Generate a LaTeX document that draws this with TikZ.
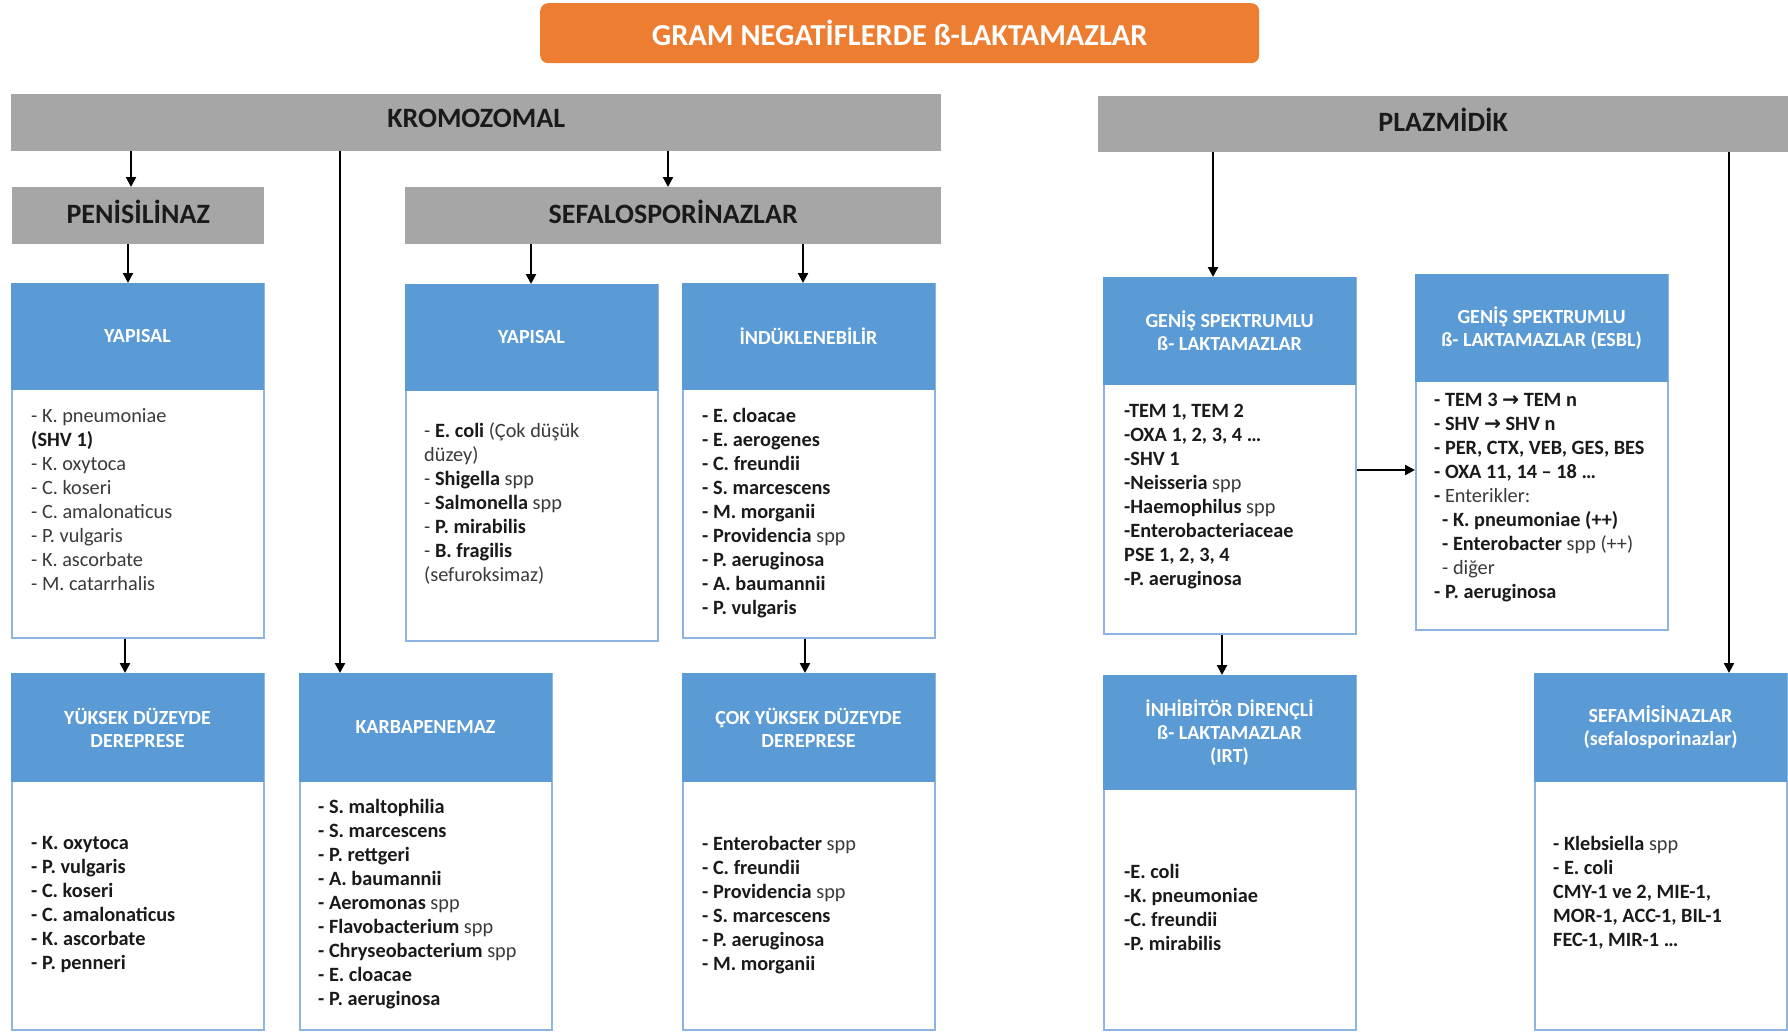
\documentclass[tikz,border=0pt]{standalone}
\usepackage{fontspec}
\setmainfont{Carlito}
\newfontfamily\symfont{DejaVu Sans}
\usetikzlibrary{arrows.meta}

\definecolor{hblue}{HTML}{5B9BD5}
\definecolor{edgeblue}{HTML}{8EB4E3}
\definecolor{bargray}{HTML}{A6A6A6}
\definecolor{titleorange}{HTML}{ED7D31}
\definecolor{darktext}{HTML}{1A1A1A}
\definecolor{softtext}{HTML}{3A3A3A}

% regular-weight pieces inside bold lists
\newcommand\rg[1]{{\mdseries\color{softtext}#1}}
\newcommand\bd[1]{{\bfseries\color{darktext}#1}}
\newcommand\toarrow{{\symfont\bfseries →}}

% one blue box: name, left x, top y, header height, total height, header text
\newcommand\lactbox[6]{%
  \node[bodybox, minimum height=#5] (#1) at (#2,#3) {};
  \node[hdrbox, minimum height=#4] (#1h) at (#2,#3) {#6};
}

\begin{document}
\begin{tikzpicture}[x=1pt, y=-1pt,
  bodybox/.style={anchor=north west, draw=edgeblue, line width=1.6pt, fill=white,
    minimum width=252pt, inner sep=0pt},
  hdrbox/.style={anchor=north west, draw=hblue, fill=hblue, line width=1pt,
    minimum width=252pt, inner sep=0pt, text=white, align=center,
    font=\fontsize{20}{23}\selectfont\bfseries},
  graybar/.style={anchor=north west, fill=bargray, inner sep=0pt, text depth=8pt,
    font=\fontsize{28}{30}\selectfont\bfseries, text=darktext},
  listtext/.style={anchor=north west, inner sep=0pt, align=left,
    font=\fontsize{20.3}{24}\selectfont, text=softtext},
  boldlist/.style={listtext, font=\fontsize{20.3}{24}\selectfont\bfseries, text=darktext},
  arr/.style={line width=2.3pt, -{Triangle[length=10pt, width=10pt]}},
]
\useasboundingbox (0,0) rectangle (1788,1031);
\fill[white] (0,0) rectangle (1788,1031);

% title
\node[anchor=north west, fill=titleorange, rounded corners=8pt,
  minimum width=719pt, minimum height=60pt, inner sep=0pt, text=white,
  font=\fontsize{30.5}{32}\selectfont\bfseries] (title) at (540,3)
  {GRAM NEGATİFLERDE ß-LAKTAMAZLAR};

% grey category bars
\node[graybar, minimum width=930pt, minimum height=57pt] (krom) at (11,94) {KROMOZOMAL};
\node[graybar, minimum width=690pt, minimum height=56pt] (plaz) at (1098,96) {PLAZMİDİK};
\node[graybar, minimum width=252pt, minimum height=57pt] (pen) at (12,187) {PENİSİLİNAZ};
\node[graybar, minimum width=536pt, minimum height=57pt] (sefalo) at (405,187) {SEFALOSPORİNAZLAR};

% blue boxes
\lactbox{yap1}{11}{283}{106pt}{354pt}{YAPISAL}
\lactbox{yap2}{405}{284}{106pt}{356pt}{YAPISAL}
\lactbox{induk}{682}{283}{106pt}{354pt}{İNDÜKLENEBİLİR}
\lactbox{yuksek}{11}{673}{108pt}{356pt}{YÜKSEK DÜZEYDE\\DEREPRESE}
\lactbox{karba}{299}{673}{108pt}{356pt}{KARBAPENEMAZ}
\lactbox{cok}{682}{673}{108pt}{356pt}{ÇOK YÜKSEK DÜZEYDE\\DEREPRESE}
\lactbox{genA}{1103}{277}{107pt}{356pt}{GENİŞ SPEKTRUMLU\\ß- LAKTAMAZLAR}
\lactbox{genB}{1415}{274}{107pt}{355pt}{GENİŞ SPEKTRUMLU\\ß- LAKTAMAZLAR (ESBL)}
\lactbox{inhib}{1103}{675}{114pt}{354pt}{İNHİBİTÖR DİRENÇLİ\\ß- LAKTAMAZLAR\\(IRT)}
\lactbox{sefam}{1534}{673}{108pt}{356pt}{SEFAMİSİNAZLAR\\(sefalosporinazlar)}

% lists
\node[listtext] (yap1t) at (31,408) {%
- K. pneumoniae\\
\bd{(SHV 1)}\\
- K. oxytoca\\
- C. koseri\\
- C. amalonaticus\\
- P. vulgaris\\
- K. ascorbate\\
- M. catarrhalis};

\node[listtext] (yap2t) at (424,422) {%
-\ \bd{E. coli} (Çok düşük\\
düzey)\\
-\ \bd{Shigella} spp\\
-\ \bd{Salmonella} spp\\
-\ \bd{P. mirabilis}\\
-\ \bd{B. fragilis}\\
(sefuroksimaz)};

\node[boldlist] (induktx) at (702,408) {%
- E. cloacae\\
- E. aerogenes\\
- C. freundii\\
- S. marcescens\\
- M. morganii\\
- Providencia \rg{spp}\\
- P. aeruginosa\\
- A. baumannii\\
- P. vulgaris};

\node[boldlist] (yuksekt) at (31,836) {%
- K. oxytoca\\
- P. vulgaris\\
- C. koseri\\
- C. amalonaticus\\
- K. ascorbate\\
- P. penneri};

\node[boldlist] (karbat) at (318,799) {%
- S. maltophilia\\
- S. marcescens\\
- P. rettgeri\\
- A. baumannii\\
- Aeromonas \rg{spp}\\
- Flavobacterium \rg{spp}\\
- Chryseobacterium \rg{spp}\\
- E. cloacae\\
- P. aeruginosa};

\node[boldlist] (cokt) at (702,836) {%
- Enterobacter \rg{spp}\\
- C. freundii\\
- Providencia \rg{spp}\\
- S. marcescens\\
- P. aeruginosa\\
- M. morganii};

\node[boldlist] (genAt) at (1124,404) {%
-TEM 1, TEM 2\\
-OXA 1, 2, 3, 4 …\\
-SHV 1\\
-Neisseria \rg{spp}\\
-Haemophilus \rg{spp}\\
-Enterobacteriaceae\\
PSE 1, 2, 3, 4\\
-P. aeruginosa};

\node[boldlist] (genBt) at (1434,393) {%
- TEM 3 \toarrow{} TEM n\\
- SHV \toarrow{} SHV n\\
- PER, CTX, VEB, GES, BES\\
- OXA 11, 14 – 18 …\\
- \rg{Enterikler:}\\
\hspace{8pt}- K. pneumoniae (++)\\
\hspace{8pt}- Enterobacter \rg{spp (++)}\\
\hspace{8pt}\rg{- diğer}\\
- P. aeruginosa};

\node[boldlist] (inhibt) at (1124,864) {%
-E. coli\\
-K. pneumoniae\\
-C. freundii\\
-P. mirabilis};

\node[boldlist] (sefamt) at (1553,836) {%
- Klebsiella \rg{spp}\\
- E. coli\\
CMY-1 ve 2, MIE-1,\\
MOR-1, ACC-1, BIL-1\\
FEC-1, MIR-1 …};

% connector anchor points along the box edges
\coordinate (cPen)    at ([xshift=119pt]pen.north west);
\coordinate (cKarba)  at ([xshift=41pt]karbah.north west);
\coordinate (cSefalo) at ([xshift=263pt]sefalo.north west);
\coordinate (cYap1)   at ([xshift=117pt]yap1h.north west);
\coordinate (cYap2)   at ([xshift=126pt]yap2h.north west);
\coordinate (cInduk)  at ([xshift=121pt]indukh.north west);
\coordinate (cYuksek) at ([xshift=114pt]yuksekh.north west);
\coordinate (cCok)    at ([xshift=123pt]cokh.north west);
\coordinate (cGenA)   at ([xshift=110pt]genAh.north west);
\coordinate (cSefam)  at ([xshift=195pt]sefamh.north west);
\coordinate (cGenB)   at ([yshift=-196pt]genB.north west);
\coordinate (cInhib)  at ([xshift=119pt]inhibh.north west);

% connectors
\draw[arr] (cPen |- krom.south) -- (cPen);
\draw[arr] (cKarba |- krom.south) -- (cKarba);
\draw[arr] (cSefalo |- krom.south) -- (cSefalo);
\draw[arr] (cYap1 |- pen.south) -- (cYap1);
\draw[arr] (cYap2 |- sefalo.south) -- (cYap2);
\draw[arr] (cInduk |- sefalo.south) -- (cInduk);
\draw[arr] (cYuksek |- yap1.south) -- (cYuksek);
\draw[arr] (cCok |- induk.south) -- (cCok);
\draw[arr] (cGenA |- plaz.south) -- (cGenA);
\draw[arr] (cSefam |- plaz.south) -- (cSefam);
\draw[arr] (cGenB -| genA.east) -- (cGenB);
\draw[arr] (cInhib |- genA.south) -- (cInhib);
\end{tikzpicture}
\end{document}
